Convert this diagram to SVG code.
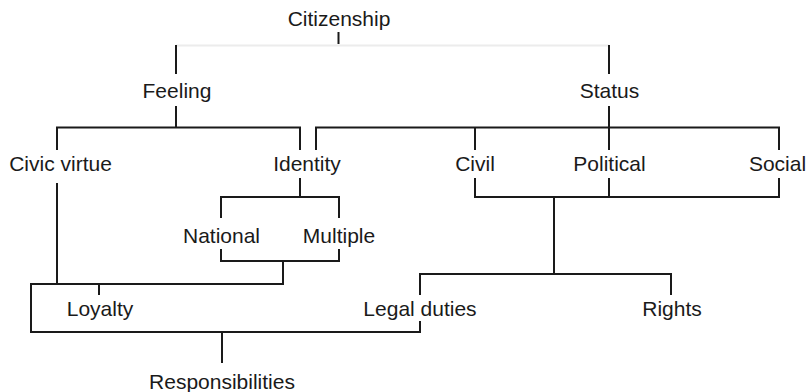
<svg xmlns="http://www.w3.org/2000/svg" width="810" height="392" viewBox="0 0 810 392">
<style>
text{font-family:"Liberation Sans",Arial,Helvetica,sans-serif;font-size:21px;fill:#1a1a1a;text-anchor:middle}
.c{fill:none;stroke:#1a1a1a;stroke-width:2}
.g{fill:none;stroke:#ececec;stroke-width:2}
</style>
<rect width="810" height="392" fill="#fff"/>
<g id="connectors">
<path class="c" d="M338.5,32V44"/>
<path class="g" d="M176,45.5H609"/>
<path class="c" d="M176,45V74M609,45V74"/>
<path class="c" d="M176,106V127.5M57,150V127.5H300V150"/>
<path class="c" d="M609,106V127.5M316,150V127.5H779V150M475,127.5V150M609,127.5V150"/>
<path class="c" d="M475,178V197H779V178M609,178V197M554,197V274M420,295V274H671V295"/>
<path class="c" d="M300,178V197M221,218V197H339V218"/>
<path class="c" d="M221,249V261H339V249M283,261V284H31V332H420V321M57,183V284M99,284V295M222,332V363"/>
</g>
<g id="citizenship"><text x="339" y="26">Citizenship</text></g>
<g id="feeling"><text x="177" y="98">Feeling</text></g>
<g id="status"><text x="609.5" y="98">Status</text></g>
<g id="civic-virtue"><text x="60.5" y="171">Civic virtue</text></g>
<g id="identity"><text x="307" y="171">Identity</text></g>
<g id="civil"><text x="475" y="171">Civil</text></g>
<g id="political"><text x="609.5" y="171">Political</text></g>
<g id="social"><text x="777.5" y="171">Social</text></g>
<g id="national"><text x="221.5" y="243">National</text></g>
<g id="multiple"><text x="339" y="243">Multiple</text></g>
<g id="loyalty"><text x="100" y="316">Loyalty</text></g>
<g id="legal-duties"><text x="420" y="316">Legal duties</text></g>
<g id="rights"><text x="672" y="316">Rights</text></g>
<g id="responsibilities"><text x="222" y="389">Responsibilities</text></g>
</svg>
